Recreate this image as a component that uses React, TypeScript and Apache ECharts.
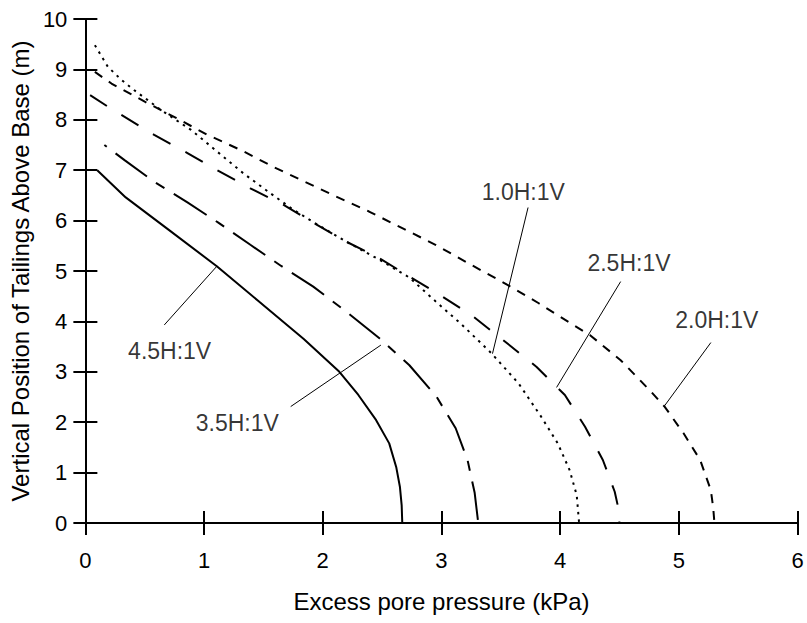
import React, { useEffect, useRef } from "react";
import * as echarts from "echarts";

const xMin = 0;
const xMax = 6;
const yMin = 0;
const yMax = 10;

const xTitle = "Excess pore pressure (kPa)";
const yTitle = "Vertical Position of Tailings Above Base (m)";

// Curves: [excess pore pressure (kPa), height (m)]
const curve45: [number, number][] = [
  [0.1, 7.0], [0.34, 6.46], [0.7, 5.82], [1.11, 5.09], [1.45, 4.42], [1.84, 3.65],
  [2.14, 3.0], [2.3, 2.54], [2.45, 2.04], [2.56, 1.58], [2.62, 1.1], [2.65, 0.72],
  [2.665, 0.35], [2.67, 0],
];
const curve35: [number, number][] = [
  [0.16, 7.5], [0.33, 7.2], [0.58, 6.77], [0.86, 6.36], [1.12, 5.96], [1.39, 5.52],
  [1.65, 5.1], [1.92, 4.69], [2.2, 4.19], [2.48, 3.66], [2.73, 3.13], [2.96, 2.5],
  [3.12, 1.88], [3.22, 1.25], [3.28, 0.6], [3.31, 0],
];
const curve25: [number, number][] = [
  [0.04, 8.49], [0.19, 8.26], [0.58, 7.7], [0.86, 7.34], [1.11, 7.0], [1.39, 6.64],
  [1.67, 6.31], [1.92, 5.96], [2.2, 5.58], [2.48, 5.25], [2.73, 4.89], [2.99, 4.52],
  [3.26, 4.11], [3.52, 3.63], [3.8, 3.1], [4.04, 2.54], [4.21, 1.91], [4.36, 1.25],
  [4.46, 0.62], [4.49, 0.3], [4.5, 0],
];
const curve10: [number, number][] = [
  [0.08, 9.48], [0.19, 9.05], [0.3, 8.8], [0.41, 8.59], [0.52, 8.4], [0.64, 8.19],
  [0.89, 7.8], [1.11, 7.37], [1.33, 6.94], [1.56, 6.54], [1.75, 6.22], [1.92, 5.97],
  [2.2, 5.58], [2.48, 5.22], [2.73, 4.87], [2.95, 4.4], [3.17, 3.94], [3.42, 3.37],
  [3.65, 2.77], [3.84, 2.11], [3.98, 1.58], [4.08, 1.05], [4.14, 0.55], [4.16, 0],
];
const curve20: [number, number][] = [
  [0.08, 8.95], [0.22, 8.72], [0.5, 8.36], [0.77, 8.03], [1.03, 7.7], [1.31, 7.4],
  [1.58, 7.07], [1.84, 6.78], [2.11, 6.48], [2.39, 6.18], [2.67, 5.85], [2.95, 5.52],
  [3.23, 5.15], [3.56, 4.72], [3.82, 4.36], [4.09, 3.96], [4.25, 3.73], [4.51, 3.23],
  [4.76, 2.62], [4.88, 2.31], [5.04, 1.78], [5.18, 1.25], [5.27, 0.65], [5.29, 0.3],
  [5.3, 0],
];

// Annotation labels and their leader lines
const labelNames = ["1.0H:1V", "2.5H:1V", "2.0H:1V", "4.5H:1V", "3.5H:1V"];
const labelPos: [number, number][] = [
  [3.69, 6.56], [4.58, 5.16], [5.32, 4.03], [0.71, 3.41], [1.28, 1.99],
];
const leaderLines: [number, number][][] = [
  [[3.73, 6.26], [3.43, 3.36]],
  [[4.51, 4.79], [3.97, 2.69]],
  [[5.27, 3.58], [4.875, 2.31]],
  [[0.665, 3.93], [1.11, 5.1]],
  [[1.73, 2.31], [2.49, 3.53]],
];

const FONT = "'Liberation Sans', Arial, Helvetica, sans-serif";

export default function App() {
  const ref = useRef<HTMLDivElement>(null);
  useEffect(() => {
    if (!ref.current) return;
    const chart = echarts.init(ref.current, undefined, { renderer: "svg" });
    const curveSeries = (name: string, data: [number, number][], type: any, extra: any = {}) => ({
      name,
      type: "line",
      data,
      showSymbol: false,
      symbol: "none",
      smooth: false,
      silent: true,
      lineStyle: { color: "#000", width: 2, type, ...extra },
      z: 3,
    });
    const series: any[] = [
      curveSeries("4.5H:1V", curve45, "solid"),
      curveSeries("3.5H:1V", curve35, [39, 11, 10, 11], { dashOffset: 57 }),
      curveSeries("2.5H:1V", curve25, [20, 17]),
      curveSeries("1.0H:1V", curve10, [2.5, 5]),
      curveSeries("2.0H:1V", curve20, [9, 8]),
    ];
    leaderLines.forEach((seg, i) => {
      series.push({
        name: "leader" + i,
        type: "line",
        data: seg,
        showSymbol: false,
        symbol: "none",
        silent: true,
        lineStyle: { color: "#000", width: 1, type: "solid" },
        z: 4,
      });
    });
    series.push({
      name: "labels",
      type: "scatter",
      symbolSize: 0,
      silent: true,
      data: labelPos.map((p, i) => ({ value: p, name: labelNames[i] })),
      label: {
        show: true,
        position: "inside",
        formatter: (p: any) => p.name,
        color: "#000",
        fontSize: 23,
        fontFamily: FONT,
      },
      z: 5,
    });

    const axisCommon = {
      type: "value",
      axisLine: { show: true, lineStyle: { color: "#000", width: 2 } },
      axisTick: { show: true, inside: true, length: 12, lineStyle: { color: "#000", width: 2 } },
      splitLine: { show: false },
    };

    chart.setOption({
      animation: false,
      backgroundColor: "#fff",
      grid: { left: 81, right: 9.5, top: 19, bottom: 100, containLabel: false },
      xAxis: [
        {
          ...axisCommon,
          min: xMin,
          max: xMax,
          interval: 1,
          position: "bottom",
          name: xTitle,
          nameLocation: "middle",
          nameGap: 66,
          nameTextStyle: { color: "#000", fontSize: 24, fontFamily: FONT },
          axisLabel: { color: "#000", fontSize: 22, fontFamily: FONT, margin: 26 },
        },
        {
          ...axisCommon,
          min: xMin,
          max: xMax,
          interval: 1,
          position: "top",
          axisLabel: { show: false },
        },
      ],
      yAxis: [
        {
          ...axisCommon,
          min: yMin,
          max: yMax,
          interval: 1,
          position: "left",
          name: yTitle,
          nameLocation: "middle",
          nameGap: 45,
          nameTextStyle: { color: "#000", fontSize: 24, fontFamily: FONT },
          axisLabel: { color: "#000", fontSize: 22, fontFamily: FONT, margin: 18 },
        },
        {
          ...axisCommon,
          min: yMin,
          max: yMax,
          interval: 1,
          position: "right",
          axisLabel: { show: false },
        },
      ],
      series,
    });
    return () => chart.dispose();
  }, []);
  return (
    <div
      ref={ref}
      style={{ position: "fixed", left: 0, top: 0, width: 807, height: 623, background: "#fff" }}
    />
  );
}
